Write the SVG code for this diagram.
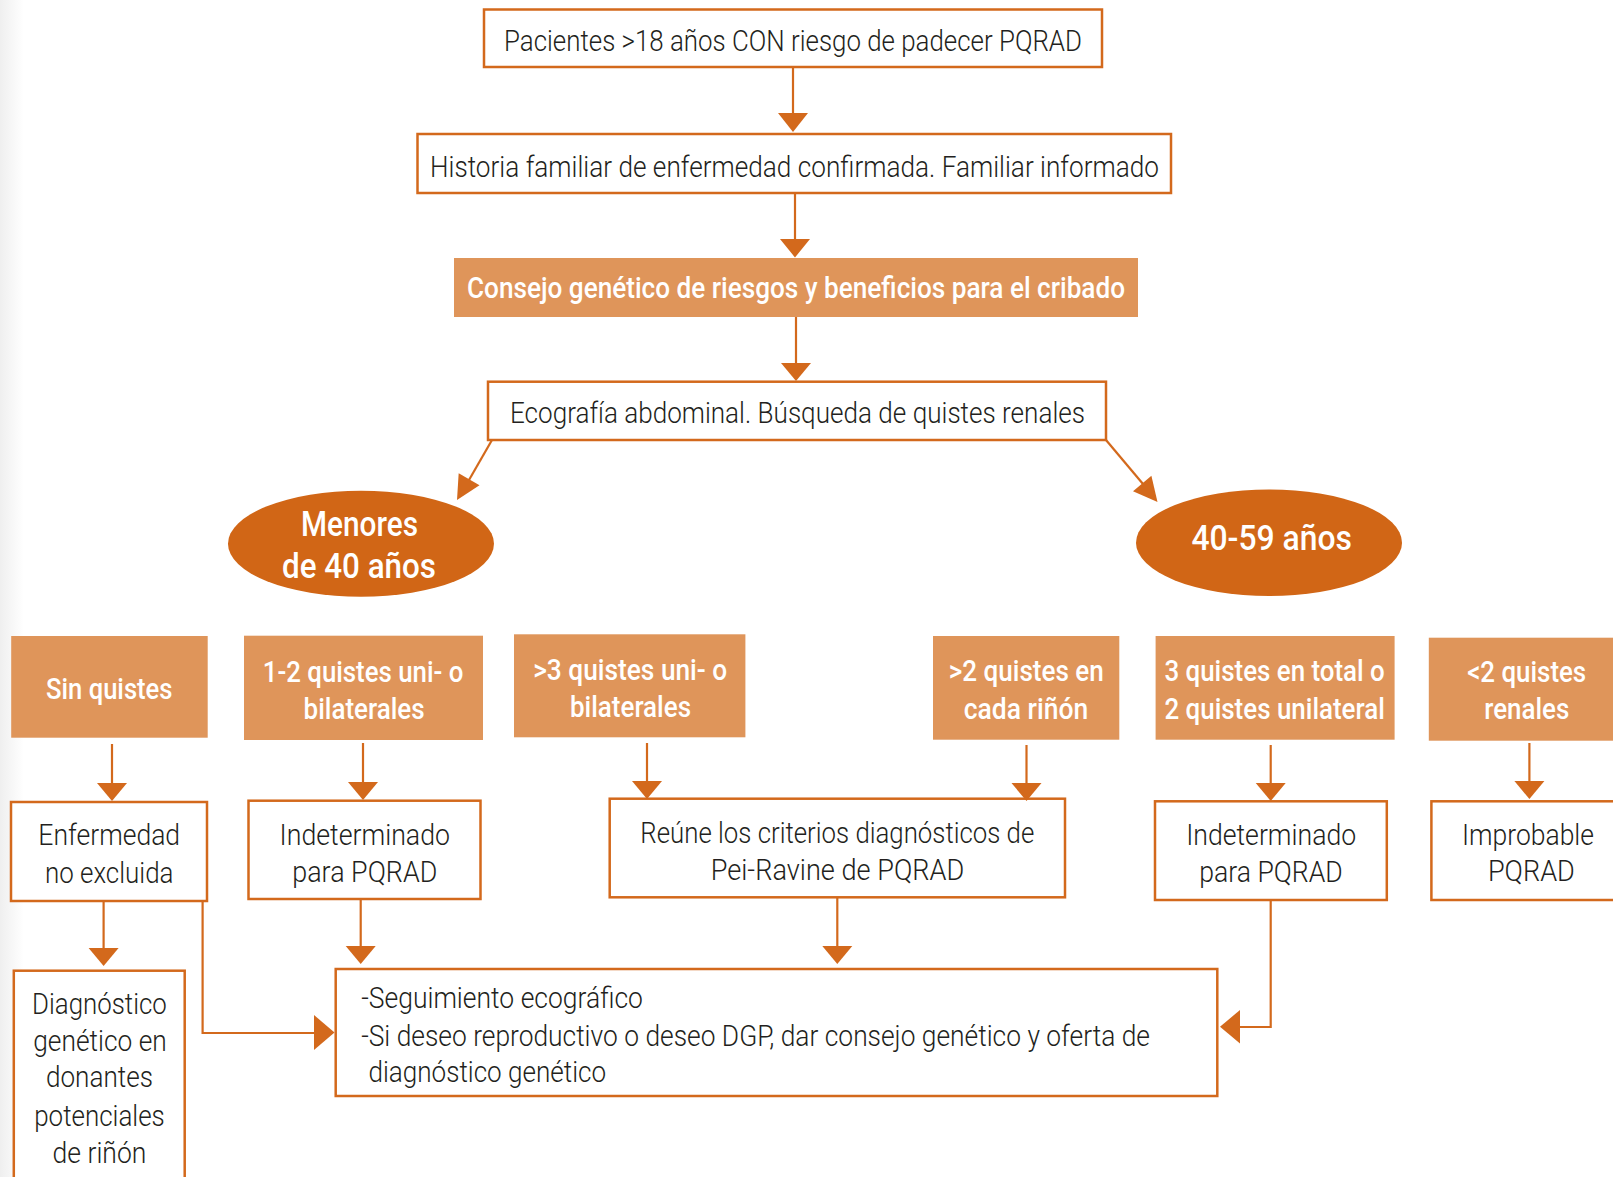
<svg xmlns="http://www.w3.org/2000/svg" width="1613" height="1177" viewBox="0 0 1613 1177">
<defs>
<linearGradient id="edge" x1="0" y1="0" x2="1" y2="0">
<stop offset="0" stop-color="#efefef"/>
<stop offset="1" stop-color="#ffffff"/>
</linearGradient>
<style>
.box{fill:#ffffff;stroke:#D3691C;stroke-width:2.5}
.fbox{fill:#DF955A}
.oval{fill:#D16616}
.t{font-family:Roboto,"Liberation Sans",sans-serif;font-size:30px;font-weight:300;fill:#231F20}
.w{font-family:Roboto,"Liberation Sans",sans-serif;font-size:30px;font-weight:500;fill:#ffffff}
.we{font-family:Roboto,"Liberation Sans",sans-serif;font-size:35px;font-weight:500;fill:#ffffff}
.ln{fill:none;stroke:#D3691C;stroke-width:2.2}
.ah{fill:#D3691C}
</style>
</defs>
<rect x="0" y="0" width="1613" height="1177" fill="#ffffff"/>
<rect x="0" y="0" width="24" height="1177" fill="url(#edge)"/>

<g id="n1">
<rect class="box" x="484" y="9.5" width="618" height="57.5"/>
<text class="t" x="504" y="50.5" textLength="578" lengthAdjust="spacingAndGlyphs">Pacientes &gt;18 años CON riesgo de padecer PQRAD</text>
</g>
<g id="n2">
<rect class="box" x="417.5" y="134" width="753.5" height="59"/>
<text class="t" x="430" y="176.7" textLength="729" lengthAdjust="spacingAndGlyphs">Historia familiar de enfermedad confirmada. Familiar informado</text>
</g>
<g id="n3">
<rect class="fbox" x="454" y="258" width="684" height="59"/>
<text class="w" x="467" y="298.3" textLength="658" lengthAdjust="spacingAndGlyphs">Consejo genético de riesgos y beneficios para el cribado</text>
</g>
<g id="n4">
<rect class="box" x="488" y="381.7" width="618" height="58.3"/>
<text class="t" x="510" y="423.3" textLength="575" lengthAdjust="spacingAndGlyphs">Ecografía abdominal. Búsqueda de quistes renales</text>
</g>

<g id="e1">
<ellipse class="oval" cx="361" cy="543.7" rx="133" ry="53"/>
<text class="we" x="301" y="536" textLength="117" lengthAdjust="spacingAndGlyphs">Menores</text>
<text class="we" x="282" y="577.7" textLength="154" lengthAdjust="spacingAndGlyphs">de 40 años</text>
</g>
<g id="e2">
<ellipse class="oval" cx="1269" cy="542.7" rx="133" ry="53.3"/>
<text class="we" x="1191.4" y="550" textLength="160.6" lengthAdjust="spacingAndGlyphs">40-59 años</text>
</g>

<g id="r1a">
<rect class="fbox" x="11.2" y="636" width="196.5" height="101.7"/>
<text class="w" x="46" y="699.3" textLength="126.5" lengthAdjust="spacingAndGlyphs">Sin quistes</text>
</g>
<g id="r1b">
<rect class="fbox" x="244" y="635.7" width="239" height="104.3"/>
<text class="w" x="262.8" y="681.7" textLength="200.5" lengthAdjust="spacingAndGlyphs">1-2 quistes uni- o</text>
<text class="w" x="303.6" y="718.7" textLength="121" lengthAdjust="spacingAndGlyphs">bilaterales</text>
</g>
<g id="r1c">
<rect class="fbox" x="514" y="634.3" width="231.4" height="103"/>
<text class="w" x="533.2" y="680" textLength="194" lengthAdjust="spacingAndGlyphs">&gt;3 quistes uni- o</text>
<text class="w" x="570" y="716.7" textLength="121" lengthAdjust="spacingAndGlyphs">bilaterales</text>
</g>
<g id="r1d">
<rect class="fbox" x="933" y="636" width="186.3" height="103.7"/>
<text class="w" x="948.8" y="681" textLength="155" lengthAdjust="spacingAndGlyphs">&gt;2 quistes en</text>
<text class="w" x="963.8" y="718.7" textLength="124.4" lengthAdjust="spacingAndGlyphs">cada riñón</text>
</g>
<g id="r1e">
<rect class="fbox" x="1155.6" y="636" width="239" height="103.7"/>
<text class="w" x="1164.4" y="681" textLength="220.4" lengthAdjust="spacingAndGlyphs">3 quistes en total o</text>
<text class="w" x="1164.4" y="718.7" textLength="220.4" lengthAdjust="spacingAndGlyphs">2 quistes unilateral</text>
</g>
<g id="r1f">
<rect class="fbox" x="1428.8" y="637.7" width="190" height="103"/>
<text class="w" x="1467.2" y="681.7" textLength="119" lengthAdjust="spacingAndGlyphs">&lt;2 quistes</text>
<text class="w" x="1484.3" y="719.3" textLength="85" lengthAdjust="spacingAndGlyphs">renales</text>
</g>

<g id="r2a">
<rect class="box" x="11" y="802" width="196" height="99"/>
<text class="t" x="38.3" y="845" textLength="141.8" lengthAdjust="spacingAndGlyphs">Enfermedad</text>
<text class="t" x="44.9" y="882.7" textLength="128.6" lengthAdjust="spacingAndGlyphs">no excluida</text>
</g>
<g id="r2b">
<rect class="box" x="248.5" y="800.7" width="232" height="98.3"/>
<text class="t" x="279.6" y="845" textLength="170.4" lengthAdjust="spacingAndGlyphs">Indeterminado</text>
<text class="t" x="292.3" y="882" textLength="145" lengthAdjust="spacingAndGlyphs">para PQRAD</text>
</g>
<g id="r2c">
<rect class="box" x="609.7" y="798.7" width="455.3" height="98.6"/>
<text class="t" x="640.3" y="842.7" textLength="394" lengthAdjust="spacingAndGlyphs">Reúne los criterios diagnósticos de</text>
<text class="t" x="710.7" y="880" textLength="253.6" lengthAdjust="spacingAndGlyphs">Pei-Ravine de PQRAD</text>
</g>
<g id="r2d">
<rect class="box" x="1155" y="801.3" width="231.8" height="98.7"/>
<text class="t" x="1186.2" y="845" textLength="170" lengthAdjust="spacingAndGlyphs">Indeterminado</text>
<text class="t" x="1199.2" y="882" textLength="143.6" lengthAdjust="spacingAndGlyphs">para PQRAD</text>
</g>
<g id="r2e">
<rect class="box" x="1431.4" y="801.3" width="200" height="98.7"/>
<text class="t" x="1462" y="845" textLength="132" lengthAdjust="spacingAndGlyphs">Improbable</text>
<text class="t" x="1487.9" y="880.7" textLength="87" lengthAdjust="spacingAndGlyphs">PQRAD</text>
</g>

<g id="r3a">
<rect class="box" x="13.8" y="970.7" width="170.9" height="230"/>
<text class="t" x="32.1" y="1014" textLength="134.7" lengthAdjust="spacingAndGlyphs">Diagnóstico</text>
<text class="t" x="33.2" y="1050.7" textLength="133.6" lengthAdjust="spacingAndGlyphs">genético en</text>
<text class="t" x="45.9" y="1087.3" textLength="107" lengthAdjust="spacingAndGlyphs">donantes</text>
<text class="t" x="34.2" y="1126" textLength="130.6" lengthAdjust="spacingAndGlyphs">potenciales</text>
<text class="t" x="52.6" y="1162.7" textLength="93.8" lengthAdjust="spacingAndGlyphs">de riñón</text>
</g>
<g id="r3b">
<rect class="box" x="335.7" y="969" width="881.6" height="127"/>
<text class="t" x="361.2" y="1007.7" textLength="281.7" lengthAdjust="spacingAndGlyphs">-Seguimiento ecográfico</text>
<text class="t" x="361.2" y="1045.7" textLength="788.8" lengthAdjust="spacingAndGlyphs">-Si deseo reproductivo o deseo DGP, dar consejo genético y oferta de</text>
<text class="t" x="368.4" y="1081.7" textLength="237.8" lengthAdjust="spacingAndGlyphs">diagnóstico genético</text>
</g>

<g id="connectors">
<path class="ln" d="M793 67 V114"/>
<polygon class="ah" points="778,113 808,113 793,132"/>
<path class="ln" d="M795 193 V240"/>
<polygon class="ah" points="780,239 810,239 795,257.5"/>
<path class="ln" d="M796 317 V364"/>
<polygon class="ah" points="781,363 811,363 796,381"/>
<path class="ln" d="M492 440 L469 480"/>
<polygon class="ah" points="479.5,485.3 458.7,473.3 457,500"/>
<path class="ln" d="M1106 440 L1143 484"/>
<polygon class="ah" points="1133,491.2 1151.4,475.8 1157.5,502"/>

<path class="ln" d="M112 744 V784"/>
<polygon class="ah" points="97,783 127,783 112,801"/>
<path class="ln" d="M363 743 V783"/>
<polygon class="ah" points="348,782 378,782 363,800"/>
<path class="ln" d="M647 743 V782"/>
<polygon class="ah" points="632,781 662,781 647,799"/>
<path class="ln" d="M1026.5 745 V784"/>
<polygon class="ah" points="1011.5,783 1041.5,783 1026.5,801"/>
<path class="ln" d="M1270.7 745 V784"/>
<polygon class="ah" points="1255.7,783 1285.7,783 1270.7,801"/>
<path class="ln" d="M1529.4 743 V782"/>
<polygon class="ah" points="1514.4,781 1544.4,781 1529.4,799"/>

<path class="ln" d="M103.6 901 V949"/>
<polygon class="ah" points="88.6,948 118.6,948 103.6,966"/>
<path class="ln" d="M360.7 900 V947"/>
<polygon class="ah" points="345.7,946 375.7,946 360.7,964"/>
<path class="ln" d="M837.3 898 V947"/>
<polygon class="ah" points="822.3,946 852.3,946 837.3,964"/>
<path class="ln" d="M202.6 901 V1033 H315"/>
<polygon class="ah" points="314,1015 314,1050 334.5,1032.5"/>
<path class="ln" d="M1270.7 901 V1027 H1239"/>
<polygon class="ah" points="1240,1010 1240,1043.5 1220,1026.7"/>
</g>
</svg>
